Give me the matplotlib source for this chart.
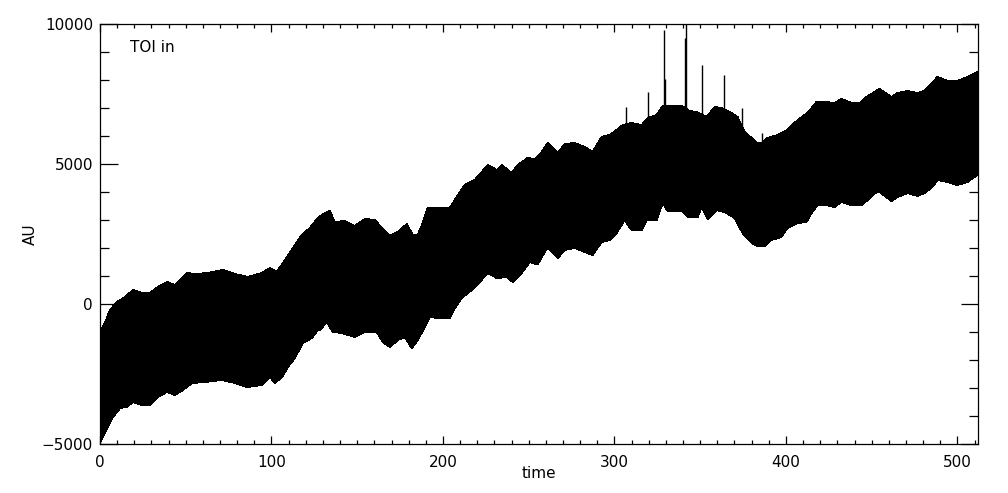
import numpy as np
import matplotlib
matplotlib.use("Agg")
from matplotlib import pyplot as plt
from matplotlib.ticker import MultipleLocator

# upper envelope of the signal (time, AU)
t_up = [0.0, 2.9, 5.8, 9.9, 14.6, 19.2, 24.5, 29.1, 33.8, 39.0, 43.7, 50.7, 55.4,
        62.9, 71.7, 78.7, 86.2, 94.4, 99.1, 103.1, 107.8, 112.5, 117.7, 122.4,
        127.0, 129.4, 134.0, 136.9, 142.8, 148.6, 154.4, 160.3, 164.3, 169.0,
        173.7, 178.9, 182.4, 185.3, 188.2, 191.1, 197.0, 204.0, 208.0, 212.7,
        218.5, 222.6, 226.1, 231.4, 234.3, 240.1, 243.6, 249.4, 253.5, 257.6,
        261.1, 266.9, 271.0, 276.8, 282.6, 287.3, 292.5, 297.2, 301.3, 304.8,
        310.0, 315.9, 319.3, 324.6, 328.1, 335.1, 339.2, 343.8, 347.9, 353.7,
        358.4, 362.5, 368.3, 371.8, 375.9, 380.0, 383.4, 385.8, 389.3, 395.1,
        400.9, 406.8, 412.6, 417.8, 423.7, 428.3, 432.4, 438.2, 442.9, 447.0,
        451.6, 454.5, 461.5, 465.0, 470.9, 476.7, 480.8, 485.4, 488.3, 494.2,
        500.0, 505.8, 511.5]
v_up = [-1000, -679, -214, 71, 250, 500, 393, 393, 607, 786, 679, 1107, 1071,
        1107, 1214, 1071, 964, 1107, 1286, 1143, 1571, 2000, 2464, 2714,
        3071, 3178, 3321, 2929, 2964, 2786, 3036, 3000, 2714, 2429,
        2571, 2857, 2464, 2464, 2893, 3428, 3428, 3428, 3821, 4250,
        4428, 4714, 4964, 4786, 4964, 4678, 4964, 5214, 5180, 5428,
        5750, 5393, 5714, 5750, 5607, 5428, 5964, 6035, 6214, 6393,
        6464, 6393, 6642, 6750, 7071, 7071, 7071, 6893, 6857, 6678,
        7035, 7000, 6821, 6678, 6142, 5928, 5750, 5750, 5928, 6035,
        6214, 6571, 6821, 7214, 7214, 7178, 7321, 7178, 7178, 7392,
        7571, 7678, 7392, 7535, 7607, 7535, 7607, 7892, 8107, 7964,
        7964, 8107, 8285]

# lower envelope of the signal (time, AU)
t_lo = [0.0, 4.1, 7.6, 11.7, 15.7, 19.2, 24.5, 29.1, 33.8, 39.0, 43.7, 48.4,
        53.6, 61.2, 71.1, 78.7, 85.7, 94.4, 99.1, 102.0, 106.1, 109.6, 113.6,
        118.3, 123.5, 127.0, 128.2, 132.3, 135.8, 141.0, 148.6, 154.4, 161.4,
        164.9, 169.0, 173.7, 177.7, 181.8, 185.3, 189.4, 192.3, 197.0, 204.0,
        206.9, 211.0, 216.8, 221.4, 226.1, 231.4, 237.2, 240.7, 245.9, 250.6,
        255.2, 257.6, 261.1, 266.9, 271.0, 276.8, 282.6, 287.3, 292.5, 297.2,
        301.3, 305.9, 310.0, 315.9, 318.8, 324.6, 328.1, 331.0, 339.2, 342.7,
        348.5, 350.8, 354.3, 359.6, 364.2, 370.0, 374.7, 380.0, 383.4, 387.5,
        391.6, 397.4, 400.9, 406.8, 412.0, 414.9, 418.4, 423.7, 428.3, 432.4,
        438.2, 444.1, 447.6, 451.6, 454.5, 461.5, 465.0, 470.9, 476.7, 480.8,
        485.4, 488.3, 494.2, 500.0, 505.8, 511.5]
v_lo = [-4950, -4428, -4035, -3714, -3678, -3500, -3607, -3607, -3321, -3143,
        -3250, -3071, -2821, -2786, -2714, -2821, -2964, -2893, -2607, -2821,
        -2607, -2250, -1928, -1393, -1214, -929, -929, -643, -1000, -1036,
        -1178, -1000, -1000, -1357, -1536, -1286, -1178, -1571, -1286, -821,
        -464, -500, -500, -143, 214, 500, 786, 1107, 928, 964, 786, 1107, 1500,
        1410, 1678, 2035, 1643, 1928, 2000, 1857, 1750, 2214, 2286,
        2536, 3000, 2643, 2643, 3000, 3000, 3607, 3321, 3321, 3107,
        3107, 3464, 3035, 3357, 3286, 3071, 2536, 2178, 2071, 2071,
        2286, 2393, 2714, 2893, 2928, 3250, 3535, 3535, 3464, 3643,
        3535, 3535, 3714, 3964, 4000, 3678, 3821, 3964, 3857, 3964,
        4178, 4428, 4357, 4250, 4357, 4607]

# narrow spikes above the band
spike_t = [306.5, 319.3, 328.7, 329.3, 341.0, 341.5, 350.8, 363.6, 374.1, 385.8]
spike_top = [7035, 7571, 9785, 8035, 9500, 10000, 8535, 8178, 7000, 6107]

fig = plt.figure(figsize=(10.08, 4.93), dpi=100)
ax = fig.add_axes([100 / 1008, 49 / 493, 878 / 1008, 420 / 493])

ax.fill(np.concatenate([t_up, t_lo[::-1]]), np.concatenate([v_up, v_lo[::-1]]),
        color="black", linewidth=0.6, antialiased=False)
base = np.interp(spike_t, t_up, v_up)
ax.vlines(spike_t, base - 300, spike_top, color="black", linewidth=1.0)

ax.set_xlim(0, 512)
ax.set_ylim(-5000, 10000)
ax.xaxis.set_major_locator(MultipleLocator(100))
ax.xaxis.set_minor_locator(MultipleLocator(10))
ax.yaxis.set_major_locator(MultipleLocator(5000))
ax.yaxis.set_minor_locator(MultipleLocator(1000))

ax.tick_params(axis="both", which="both", direction="in", top=True, right=True,
               width=0.9, labelsize=11, colors="black")
ax.tick_params(axis="x", which="major", length=6.0, pad=8)
ax.tick_params(axis="x", which="minor", length=3.0)
ax.tick_params(axis="y", which="major", length=12.6, pad=5)
ax.tick_params(axis="y", which="minor", length=6.3)
for s in ax.spines.values():
    s.set_linewidth(0.9)

ax.set_xlabel("time", fontsize=11, labelpad=-3)
ax.set_ylabel("AU", fontsize=11, labelpad=3)
ax.text(0.034, 0.945, "TOI in", transform=ax.transAxes, fontsize=11,
        ha="left", va="center")

fig.savefig("out.png", dpi=100)
